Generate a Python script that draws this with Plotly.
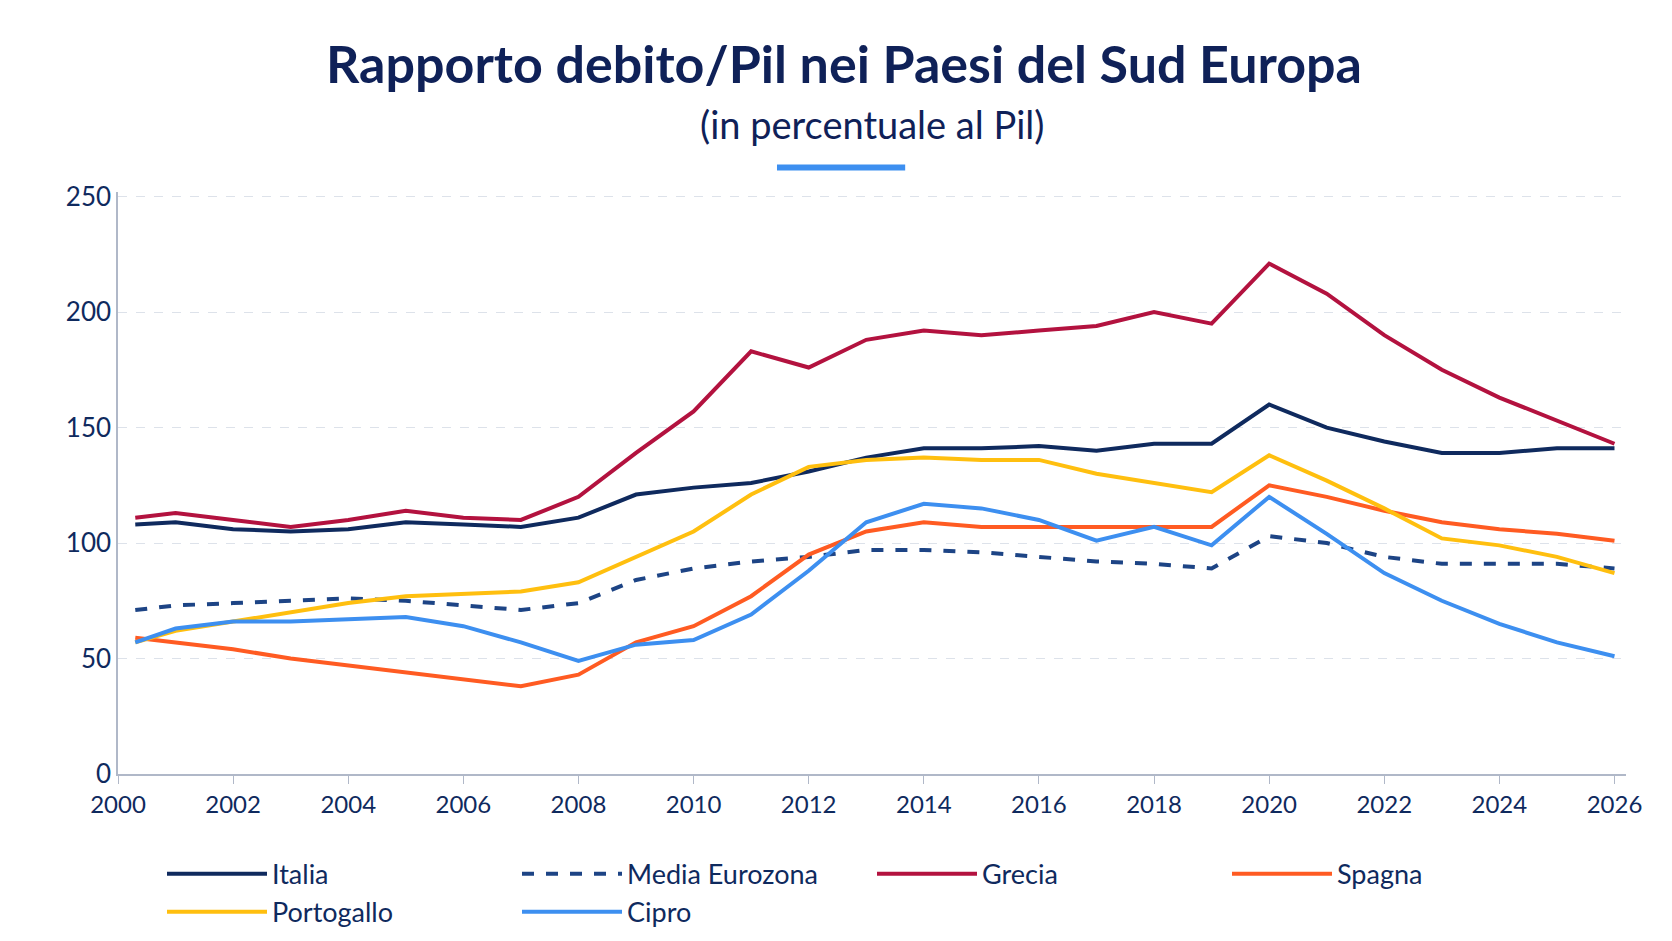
import plotly.graph_objects as go

years = [2000.3] + list(range(2001, 2027))

italia = [108, 109, 106, 105, 106, 109, 108, 107, 111, 121, 124, 126, 131, 137, 141, 141, 142, 140, 143, 143, 160, 150, 144, 139, 139, 141, 141]
media = [71, 73, 74, 75, 76, 75, 73, 71, 74, 84, 89, 92, 94, 97, 97, 96, 94, 92, 91, 89, 103, 100, 94, 91, 91, 91, 89]
grecia = [111, 113, 110, 107, 110, 114, 111, 110, 120, 139, 157, 183, 176, 188, 192, 190, 192, 194, 200, 195, 221, 208, 190, 175, 163, 153, 143]
spagna = [59, 57, 54, 50, 47, 44, 41, 38, 43, 57, 64, 77, 95, 105, 109, 107, 107, 107, 107, 107, 125, 120, 114, 109, 106, 104, 101]
portogallo = [57, 62, 66, 70, 74, 77, 78, 79, 83, 94, 105, 121, 133, 136, 137, 136, 136, 130, 126, 122, 138, 127, 115, 102, 99, 94, 87]
cipro = [57, 63, 66, 66, 67, 68, 64, 57, 49, 56, 58, 69, 88, 109, 117, 115, 110, 101, 107, 99, 120, 104, 87, 75, 65, 57, 51]

series = [
    ("Italia", italia, "#0f2a5e", "solid"),
    ("Media Eurozona", media, "#1d4485", "dash"),
    ("Grecia", grecia, "#b3123f", "solid"),
    ("Spagna", spagna, "#ff5b22", "solid"),
    ("Portogallo", portogallo, "#ffbf0f", "solid"),
    ("Cipro", cipro, "#3d8ff0", "solid"),
]

fig = go.Figure()
for name, vals, color, dash in series:
    fig.add_trace(go.Scatter(x=years, y=vals, name=name, mode="lines",
                             line=dict(color=color, width=4, dash=dash)))

fig.update_layout(
    width=1672, height=941,
    paper_bgcolor="white", plot_bgcolor="white",
    font=dict(family="Lato", color="#0f2a5e", size=24),
    margin=dict(l=110, r=54, t=184, b=166),
    title=dict(text="<b>Rapporto debito/Pil nei Paesi del Sud Europa</b>",
               x=0.5, xanchor="center", y=0.94, yanchor="middle",
               font=dict(size=52, color="#0f2158", family="Lato")),
    legend=dict(orientation="h", x=0.5, xanchor="center", y=-0.13, yanchor="top",
                font=dict(size=27, color="#0f2a5e"), itemwidth=100,
                entrywidth=240, traceorder="normal"),
    xaxis=dict(range=[2000, 2026.2], tickvals=list(range(2000, 2027, 2)),
               showgrid=False, showline=True, linecolor="#b0b8c8", linewidth=1.5,
               ticks="outside", tickcolor="#b0b8c8", ticklen=8, tickfont=dict(size=24)),
    yaxis=dict(range=[0, 252], tickvals=[0, 50, 100, 150, 200, 250],
               showgrid=True, gridcolor="#dde2ea", griddash="dash", gridwidth=1.2,
               showline=True, linecolor="#b0b8c8", linewidth=1.5, zeroline=False,
               tickfont=dict(size=26), ticklen=0),
)

fig.add_annotation(text="(in percentuale al Pil)", xref="paper", yref="paper",
                   x=0.5, y=1.117, yanchor="middle", showarrow=False,
                   font=dict(size=38, color="#0f2158"))
fig.add_shape(type="line", xref="paper", yref="paper", x0=0.437, x1=0.522, y0=1.042, y1=1.042,
              line=dict(color="#3d8ff0", width=6))

fig.write_html("out.html")
